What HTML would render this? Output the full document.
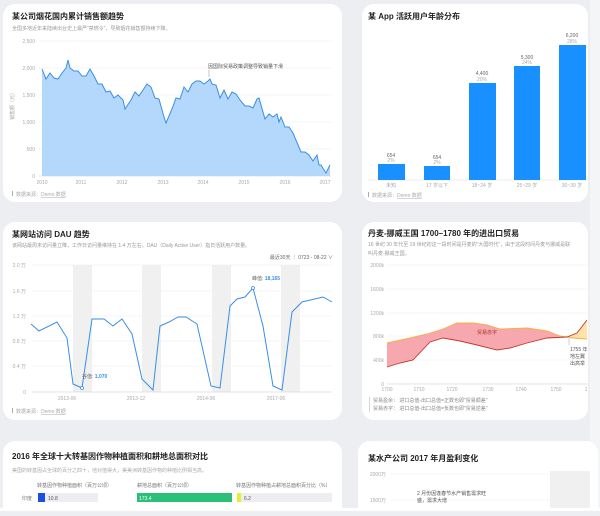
<!DOCTYPE html>
<html><head><meta charset="utf-8">
<style>
body{margin:0;width:600px;height:511px;overflow:hidden;background:#eceef1;font-family:"Liberation Sans","Noto Sans CJK SC",sans-serif;}
svg text{font-family:"Liberation Sans","Noto Sans CJK SC",sans-serif;}
</style></head>
<body>
<svg width="600" height="511" viewBox="0 0 600 511" xmlns="http://www.w3.org/2000/svg">
<rect width="600" height="511" fill="#eceef1"/>
<rect x="590" y="0" width="10" height="511" fill="#f4f5f7"/>
<!-- cards -->
<rect x="3" y="4" width="339" height="198" rx="12" fill="#fff"/>
<rect x="362" y="4" width="226" height="198" rx="12" fill="#fff"/>
<rect x="3" y="222" width="339" height="198" rx="12" fill="#fff"/>
<rect x="362" y="222" width="226" height="198" rx="12" fill="#fff"/>
<rect x="3" y="441" width="339" height="90" rx="12" fill="#fff"/>
<rect x="358" y="441" width="240" height="90" rx="12" fill="#fff"/>

<!-- Chart 1 -->
<text x="12" y="19" font-size="8" font-weight="bold" fill="#222">某公司烟花国内累计销售额趋势</text>
<text x="12" y="30" font-size="5" fill="#999">全国多地近年来陆续出台史上最严"禁燃令"，导致烟花销售额持续下降。</text>
<g stroke="#eee" stroke-width="0.6">
<line x1="39" y1="41" x2="331" y2="41"/><line x1="39" y1="68" x2="331" y2="68"/><line x1="39" y1="95" x2="331" y2="95"/><line x1="39" y1="122" x2="331" y2="122"/><line x1="39" y1="149" x2="331" y2="149"/>
</g>
<line x1="39" y1="176" x2="331" y2="176" stroke="#ccc" stroke-width="0.6"/>
<g font-size="5" fill="#aaa" text-anchor="end">
<text x="35" y="43">2,500</text><text x="35" y="70">2,000</text><text x="35" y="97">1,500</text><text x="35" y="124">1,000</text><text x="35" y="151">500</text><text x="35" y="178">0</text>
</g>
<text x="14" y="120" font-size="5" fill="#aaa" transform="rotate(-90 14 120)">销售额（元）</text>
<g font-size="5" fill="#aaa" text-anchor="middle">
<text x="42" y="184">2010</text><text x="81" y="184">2011</text><text x="122" y="184">2012</text><text x="163" y="184">2013</text><text x="203" y="184">2014</text><text x="244" y="184">2015</text><text x="285" y="184">2016</text><text x="325" y="184">2017</text>
</g>
<path d="M42,69 L46,79 L50,73 L54,78 L58,79 L62,73 L66,68 L68,60 L70,68 L74,71 L78,71 L82,76 L86,76 L90,69 L94,76 L98,84 L102,84 L106,92 L110,91 L114,98 L118,95 L123,100 L125,109 L131,100 L135,92 L139,96 L143,90 L147,84 L151,87 L155,98 L159,99 L164,117 L166,123 L172,109 L176,98 L180,99 L184,87 L188,92 L192,84 L196,81 L200,81 L204,84 L208,81 L210,79 L212,84 L216,85 L220,98 L224,90 L228,99 L232,92 L236,94 L240,100 L245,106 L249,106 L253,108 L257,99 L259,98 L265,119 L269,114 L273,117 L277,114 L279,122 L281,117 L285,127 L289,127 L293,133 L301,152 L305,152 L309,155 L313,161 L317,155 L319,165 L321,165 L326,173 L330,165 L330,176 L42,176 Z" fill="#b3d8fb" stroke="none"/>
<path d="M42,69 L46,79 L50,73 L54,78 L58,79 L62,73 L66,68 L68,60 L70,68 L74,71 L78,71 L82,76 L86,76 L90,69 L94,76 L98,84 L102,84 L106,92 L110,91 L114,98 L118,95 L123,100 L125,109 L131,100 L135,92 L139,96 L143,90 L147,84 L151,87 L155,98 L159,99 L164,117 L166,123 L172,109 L176,98 L180,99 L184,87 L188,92 L192,84 L196,81 L200,81 L204,84 L208,81 L210,79 L212,84 L216,85 L220,98 L224,90 L228,99 L232,92 L236,94 L240,100 L245,106 L249,106 L253,108 L257,99 L259,98 L265,119 L269,114 L273,117 L277,114 L279,122 L281,117 L285,127 L289,127 L293,133 L301,152 L305,152 L309,155 L313,161 L317,155 L319,165 L321,165 L326,173 L330,165" fill="none" stroke="#3a8ee6" stroke-width="1"/>
<text x="208" y="68" font-size="5" fill="#555">因国际贸易政策调整导致销量下滑</text>
<line x1="209" y1="70" x2="209" y2="77" stroke="#888" stroke-width="0.5"/>
<rect x="12" y="191" width="1" height="5" fill="#aaa"/>
<text x="16" y="196" font-size="5" fill="#aaa">数据来源：<tspan text-decoration="underline">Demo 数据</tspan></text>

<!-- Chart 2 -->
<text x="368" y="19" font-size="8" font-weight="bold" fill="#222">某 App 活跃用户年龄分布</text>
<line x1="368" y1="180" x2="588" y2="180" stroke="#ddd" stroke-width="0.6"/>
<g fill="#1890ff">
<rect x="378" y="164" width="27" height="16"/><rect x="424" y="166" width="26" height="14"/><rect x="469" y="83" width="27" height="97"/><rect x="514" y="66" width="26" height="114"/><rect x="559" y="45" width="27" height="135"/>
</g>
<g font-size="5" fill="#666" text-anchor="middle">
<text x="391" y="157">654</text><text x="437" y="159">654</text><text x="482" y="75">4,400</text><text x="527" y="59">5,300</text><text x="572" y="37">6,200</text>
</g>
<g font-size="5" fill="#aaa" text-anchor="middle">
<text x="391" y="162">2%</text><text x="437" y="164">2%</text><text x="482" y="81">20%</text><text x="527" y="64">24%</text><text x="572" y="43">28%</text>
<text x="391" y="187">未知</text><text x="437" y="187">17 岁以下</text><text x="482" y="187">18~24 岁</text><text x="527" y="187">25~29 岁</text><text x="572" y="187">30~39 岁</text>
</g>
<rect x="368" y="192" width="1" height="5" fill="#aaa"/>
<text x="372" y="197" font-size="5" fill="#aaa">数据来源：<tspan text-decoration="underline">Demo 数据</tspan></text>

<!-- Chart 3 -->
<text x="12" y="237" font-size="8" font-weight="bold" fill="#222">某网站访问 DAU 趋势</text>
<text x="12" y="247" font-size="5" fill="#999">该网站最周末访问量立降，工作日访问量维持在 1.4 万左右。DAU（Daily Active User）指日活跃用户数量。</text>
<text x="333" y="259" font-size="5" fill="#666" text-anchor="end">最近30天 ｜ 0723 - 08-22 ∨</text>
<g fill="#f0f0f0">
<rect x="73" y="265" width="19" height="127"/><rect x="142" y="265" width="19" height="127"/><rect x="212" y="265" width="19" height="127"/><rect x="281" y="265" width="19" height="127"/>
</g>
<g stroke="#eee" stroke-width="0.6">
<line x1="32" y1="265" x2="332" y2="265"/><line x1="32" y1="291" x2="332" y2="291"/><line x1="32" y1="316" x2="332" y2="316"/><line x1="32" y1="341" x2="332" y2="341"/><line x1="32" y1="366" x2="332" y2="366"/>
</g>
<line x1="32" y1="392" x2="332" y2="392" stroke="#ccc" stroke-width="0.6"/>
<g font-size="5" fill="#aaa" text-anchor="end">
<text x="26" y="267">2.0 万</text><text x="26" y="293">1.6 万</text><text x="26" y="318">1.2 万</text><text x="26" y="343">0.8 万</text><text x="26" y="368">0.4 万</text><text x="26" y="394">0</text>
</g>
<g font-size="5" fill="#aaa" text-anchor="middle">
<text x="67" y="400">2013-06</text><text x="136" y="400">2013-12</text><text x="206" y="400">2014-06</text><text x="276" y="400">2017-06</text>
</g>
<polyline points="31,324 39,331 57,322 67,338 73,384 82,388 92,319 104,319 113,326 122,319 132,334 142,379 153,390 160,326 169,322 178,317 186,317 197,324 211,386 220,388 230,306 237,299 245,297 253,288 263,326 273,386 282,390 292,312 302,302 323,297 332,302" fill="none" stroke="#3a8ee6" stroke-width="1"/>
<circle cx="82" cy="388" r="1.5" fill="#fff" stroke="#3a8ee6" stroke-width="0.8"/>
<circle cx="253" cy="288" r="1.5" fill="#fff" stroke="#3a8ee6" stroke-width="0.8"/>
<text x="82" y="378" font-size="5" fill="#666">谷值: <tspan fill="#3a8ee6" font-weight="bold">1,070</tspan></text>
<text x="252" y="280" font-size="5" fill="#666">峰值: <tspan fill="#3a8ee6" font-weight="bold">18,165</tspan></text>
<rect x="12" y="408" width="1" height="5" fill="#aaa"/>
<text x="16" y="413" font-size="5" fill="#aaa">数据来源：<tspan text-decoration="underline">Demo 数据</tspan></text>

<!-- Chart 4 -->
<text x="368" y="236" font-size="8" font-weight="bold" fill="#222">丹麦-挪威王国 1700–1780 年的进出口贸易</text>
<text x="368" y="246" font-size="5" fill="#999">16 世纪 30 年代至 19 世纪初这一段时间是丹麦的"大国时代"，由于这段时间丹麦与挪威是联</text>
<text x="368" y="255" font-size="5" fill="#999">叫丹麦-挪威王国。</text>
<g stroke="#eee" stroke-width="0.6">
<line x1="387" y1="265" x2="588" y2="265"/><line x1="387" y1="289" x2="588" y2="289"/><line x1="387" y1="313" x2="588" y2="313"/><line x1="387" y1="336" x2="588" y2="336"/><line x1="387" y1="360" x2="588" y2="360"/>
</g>
<line x1="387" y1="384" x2="588" y2="384" stroke="#ccc" stroke-width="0.6"/>
<g font-size="5" fill="#aaa" text-anchor="end">
<text x="384" y="267">2000k</text><text x="384" y="291">1600k</text><text x="384" y="315">1200k</text><text x="384" y="338">800k</text><text x="384" y="362">400k</text><text x="384" y="386">0</text>
</g>
<g font-size="5" fill="#aaa" text-anchor="middle">
<text x="387" y="391">1700</text><text x="419" y="391">1710</text><text x="452" y="391">1720</text><text x="488" y="391">1730</text><text x="521" y="391">1740</text><text x="556" y="391">1750</text><text x="586" y="391">1</text>
</g>
<polygon points="387,343 410,338 427,334 443,329 457,323 473,323 487,325 500,329 527,328 547,331 560,336 568,337 567,337 547,338 527,343 510,348 497,350 477,345 460,341 443,338 430,342 413,360 400,363 387,367" fill="#f7a8ae"/>
<polygon points="568,337 573,338 587,339 587,320 577,333" fill="#fde3a7"/>
<polyline points="387,343 410,338 427,334 443,329 457,323 473,323 487,325 500,329 527,328 547,331 560,336 573,338 587,339" fill="none" stroke="#f5b041" stroke-width="0.9"/>
<polyline points="387,367 400,363 413,360 430,342 443,338 460,341 477,345 497,350 510,348 527,343 547,338 567,337 577,333 587,320" fill="none" stroke="#c0392b" stroke-width="0.9"/>
<text x="477" y="334" font-size="5" fill="#a33">贸易赤字</text>
<line x1="569" y1="338" x2="569" y2="345" stroke="#888" stroke-width="0.4"/>
<text x="570" y="351" font-size="5" fill="#555">1755 年</text>
<text x="570" y="358" font-size="5" fill="#555">地左翼</text>
<text x="570" y="365" font-size="5" fill="#555">出高举</text>
<rect x="369" y="397" width="0.8" height="15" fill="#ccc"/>
<text x="373" y="402" font-size="5" fill="#888">贸易盈余： 进口总值-出口总值=正数也即"贸易顺差"</text>
<text x="373" y="410" font-size="5" fill="#888">贸易赤字： 进口总值-出口总值=负数也即"贸易逆差"</text>

<!-- Chart 5 -->
<text x="12" y="459" font-size="8" font-weight="bold" fill="#222">2016 年全球十大转基因作物种植面积和耕地总面积对比</text>
<text x="12" y="472" font-size="5" fill="#aaa">美国的转基因占全球的百分之四十，他对值得大，美美洲转基因作物的种植比例相当高。</text>
<g font-size="5" fill="#777">
<text x="37" y="487">转基因作物种植面积（百万公顷）</text><text x="137" y="487">耕地总面积（百万公顷）</text><text x="236" y="487">转基因作物种植占耕地总面积百分比（%）</text>
<text x="22" y="500">印度</text>
</g>
<rect x="38" y="493" width="60" height="9" fill="#eeeef2"/>
<rect x="38" y="493" width="7" height="9" fill="#1c4ee0"/>
<rect x="137" y="493" width="95" height="9" fill="#2ac078"/>
<rect x="237" y="493" width="95" height="9" fill="#eeeef2"/>
<rect x="237" y="493" width="4" height="9" fill="#e6f02a"/>
<g font-size="5">
<text x="48" y="500" fill="#555">10.8</text><text x="139" y="500" fill="#fff">173.4</text><text x="244" y="500" fill="#555">6.2</text>
</g>

<!-- Chart 6 -->
<text x="368" y="461" font-size="8" font-weight="bold" fill="#222">某水产公司 2017 年月盈利变化</text>
<rect x="550" y="471" width="40" height="40" fill="#f0f0f0"/>
<line x1="390" y1="474" x2="590" y2="474" stroke="#eee" stroke-width="0.6"/>
<line x1="390" y1="500" x2="590" y2="500" stroke="#eee" stroke-width="0.6"/>
<g font-size="5" fill="#aaa" text-anchor="end"><text x="386" y="476">2000万</text><text x="386" y="502">1500万</text></g>
<text x="417" y="495" font-size="5" fill="#555">2 月份因逢春节水产销售需求旺</text>
<text x="417" y="502" font-size="5" fill="#555">盛，需求大增</text>
<rect x="0" y="508" width="600" height="3" fill="#fff"/>
</svg>
</body></html>
